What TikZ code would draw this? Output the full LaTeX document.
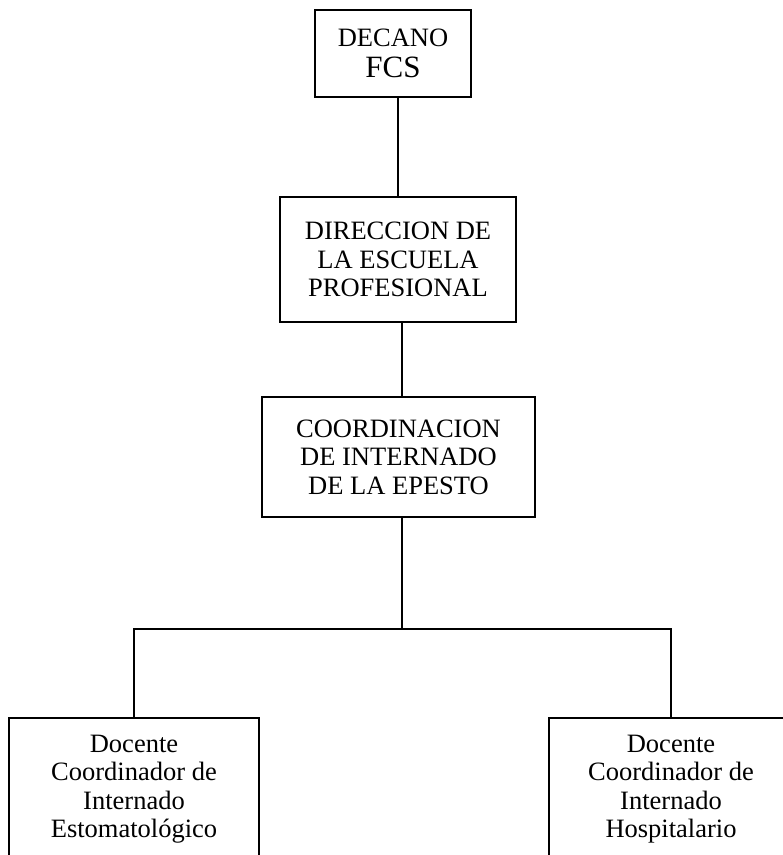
\documentclass[tikz,border=0pt]{standalone}
\usepackage{fontspec}
\setmainfont{Liberation Serif}
\usetikzlibrary{positioning}

\tikzset{
	unit/.style={draw, line width=1.8pt, align=center, inner sep=0pt,
		font=\fontsize{26.5}{28.5}\selectfont},
	link/.style={line width=1.8pt}
}

\begin{document}
\begin{tikzpicture}[x=1pt,y=1pt]
		\useasboundingbox (0,0) rectangle (783,-855);
		\node[unit, minimum width=156pt, minimum height=87pt] (decano) at (393,-53.5)
			{DECANO\\[3pt]{\fontsize{31}{36}\selectfont FCS}};
		\node[unit, minimum width=236pt, minimum height=125pt] (direccion) at (398,-259.5)
			{DIRECCION DE\\LA ESCUELA\\PROFESIONAL};
		\node[unit, minimum width=273pt, minimum height=120pt] (coordinacion) at (398.5,-457)
			{COORDINACION\\DE INTERNADO\\DE LA EPESTO};
		\node[unit, minimum width=250pt, minimum height=142pt] (estomato) at (134,-789)
			{Docente\\Coordinador de\\Internado\\Estomatológico};
		\node[unit, minimum width=244pt, minimum height=142pt] (hospital) at (671,-789)
			{Docente\\Coordinador de\\Internado\\Hospitalario};
		\coordinate (fork) at (402,-629);

		\draw[link] (direccion.north) -- (direccion.north |- decano.south);
		\draw[link] (direccion.south -| fork) -- (coordinacion.north -| fork);
		\draw[link] (coordinacion.south -| fork) -- (fork);
		\draw[link] (estomato.north) |- (fork) -| (hospital.north);
	\end{tikzpicture}
\end{document}
